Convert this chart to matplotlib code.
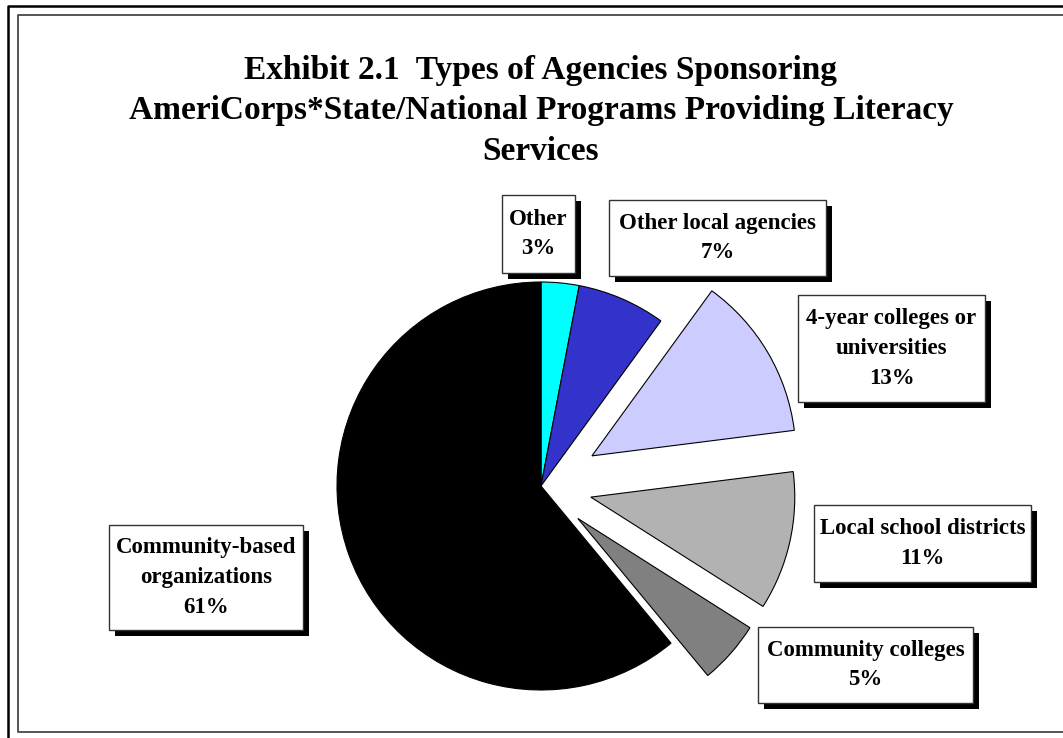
"""
Exhibit 2.1 - tipos de agencias (pie)
"""

import matplotlib.pyplot as plt
from matplotlib.patches import Rectangle

# datos
labels = ["Other", "Other local agencies", "4-year colleges or\nuniversities",
          "Local school districts", "Community colleges", "Community-based\norganizations"]
shares = [3, 7, 13, 11, 5, 61]
colors = ["#00FFFF", "#3333CC", "#CCCCFF", "#B2B2B2", "#808080", "#000000"]
explode = [0, 0, 0.29, 0.25, 0.24, 0]

title = ("Exhibit 2.1  Types of Agencies Sponsoring\n"
         "AmeriCorps*State/National Programs Providing Literacy\nServices")

W, H = 1063, 738
plt.rcParams["font.family"] = ["Liberation Serif", "DejaVu Serif"]

fig = plt.figure(figsize=(W / 100, H / 100), dpi=100)

# pie: centro (541, 486) px, radio 204 px
r_px = 204
lim = 1.5
size = 2 * lim * r_px
ax = fig.add_axes([(541 - size / 2) / W, (H - 486 - size / 2) / H, size / W, size / H])
ax.pie(shares, colors=colors, explode=explode, startangle=90, counterclock=False,
       wedgeprops=dict(edgecolor="black", linewidth=0.8))
ax.set_xlim(-lim, lim)
ax.set_ylim(-lim, lim)
ax.set_aspect("equal")
ax.axis("off")

# capa de texto y marcos en pixeles
top = fig.add_axes([0, 0, 1, 1])
top.set_xlim(0, W)
top.set_ylim(H, 0)
top.axis("off")

# marco doble
top.plot([8, 8, W], [H, 6, 6], color="black", lw=1.8, solid_capstyle="butt")
top.plot([W, 18, 18, W], [732, 732, 15, 15], color="#555555", lw=1.4)

top.text(541, 111, title, ha="center", va="center", fontsize=24, fontweight="bold",
         linespacing=1.4)

# cajas de etiquetas (x, y, ancho, alto)
boxes = [(502, 195, 73, 78), (609, 200, 217, 76), (798, 295, 187, 107),
         (814, 505, 217, 77), (758, 627, 215, 76), (109, 525, 194, 105)]

for lab, val, (x, y, w, h) in zip(labels, shares, boxes):
    top.add_patch(Rectangle((x + 6, y + 6), w, h, facecolor="black", edgecolor="none"))
    top.add_patch(Rectangle((x, y), w, h, facecolor="white", edgecolor="#333333", lw=1))
    top.text(x + w / 2, y + h / 2, f"{lab}\n{val}%", ha="center", va="center",
             fontsize=16.5, fontweight="bold", linespacing=1.55)

fig.savefig("out.png", dpi=100)
